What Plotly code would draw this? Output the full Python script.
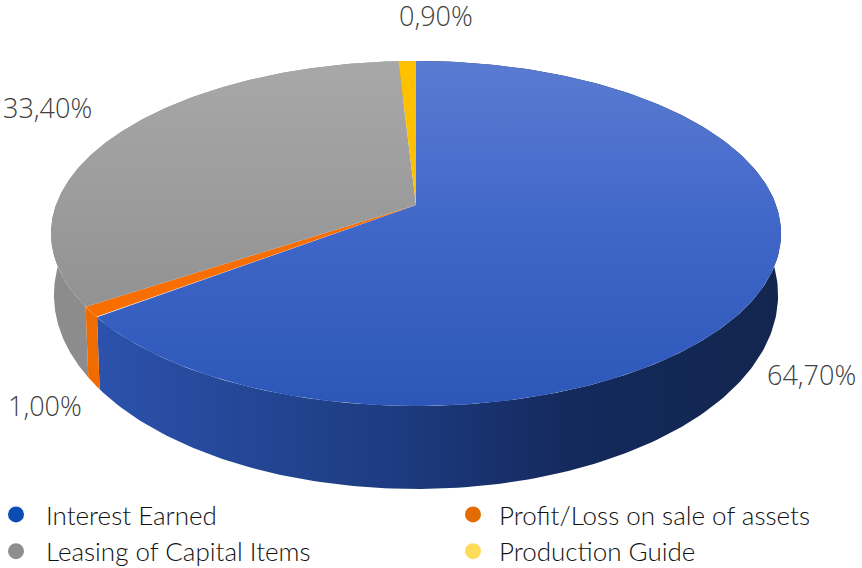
import numpy as np
import plotly.graph_objects as go

# Pie data, clockwise from twelve o'clock
categories = ["Interest Earned", "Profit/Loss on sale of assets", "Leasing of Capital Items", "Production Guide"]
values = [64.7, 1.0, 33.4, 0.9]
legend_colors = ["#0b4db3", "#e36c00", "#8e8e8e", "#ffdb5a"]
legend_groups = ["legend", "legend2", "legend", "legend2"]

# Gradients for the top faces (vertical) and the rim (horizontal).
# The y axis runs downward, so position 0 of a vertical scale is the lower edge.
top_scales = [
    [[0, "#2c57b8"], [0.5, "#3f66c8"], [1, "#5a7bd2"]],
    [[0, "#f96e00"], [1, "#f96e00"]],
    [[0, "#929292"], [1, "#a8a8a8"]],
    [[0, "#ffc000"], [1, "#ffc000"]],
]
side_scales = [
    [[0, "#2c52ac"], [0.45, "#1c3a7e"], [0.7, "#14295c"], [1, "#13264f"]],
    [[0, "#f06c00"], [1, "#f06c00"]],
    [[0, "#8c8c8c"], [1, "#909090"]],
    [[0, "#c79500"], [1, "#c79500"]],
]

# Label placement around the pie
label_xy = [(811, 374), (45, 405), (47, 107), (436, 15)]

# Perspective projection of the pie disc
APEX_X, APEX_Y = 416, 205
RADIUS, FORESHORTEN, TILT = 360, 167.8, 0.165
RIM_DROP, RIM_SCALE_X, RIM_SCALE_Y = 57.9, 0.992, 1.125


def rim_top(theta):
    u, v = np.sin(theta), np.cos(theta)
    d = 1 + TILT * v
    return RADIUS * u / d, FORESHORTEN * v / d


def top_edge(theta):
    x, y = rim_top(theta)
    return APEX_X + x, APEX_Y - y


def bottom_edge(theta):
    x, y = rim_top(theta)
    return APEX_X + RIM_SCALE_X * x, APEX_Y + RIM_DROP - RIM_SCALE_Y * y


ends = np.cumsum(values) / np.sum(values) * 2 * np.pi
starts = np.concatenate(([0.0], ends[:-1]))

fig = go.Figure()

# Rim walls first, so the top faces sit over them
for i in [3, 2, 0, 1]:
    t = np.linspace(starts[i], ends[i], 240)
    xt, yt = top_edge(t)
    xb, yb = bottom_edge(t)
    fig.add_trace(go.Scatter(
        x=np.concatenate((xt, xb[::-1], xt[:1])),
        y=np.concatenate((yt, yb[::-1], yt[:1])),
        mode="lines", line=dict(width=0), fill="toself",
        fillgradient=dict(type="horizontal", colorscale=side_scales[i]),
        hoverinfo="skip", showlegend=False,
    ))

# Top faces
for i in range(len(values)):
    t = np.linspace(starts[i], ends[i], 240)
    xt, yt = top_edge(t)
    fig.add_trace(go.Scatter(
        x=np.concatenate(([APEX_X], xt, [APEX_X])),
        y=np.concatenate(([APEX_Y], yt, [APEX_Y])),
        mode="lines", line=dict(width=0), fill="toself",
        fillgradient=dict(type="vertical", colorscale=top_scales[i]),
        name=categories[i], showlegend=False,
    ))

# Legend keys, split across two columns
for name, color, group in zip(categories, legend_colors, legend_groups):
    fig.add_trace(go.Scatter(
        x=[None], y=[None], mode="markers", name=name, legend=group,
        marker=dict(size=16, color=color),
    ))

for v, (lx, ly) in zip(values, label_xy):
    fig.add_annotation(
        x=lx, y=ly, text=f"{v:.2f}".replace(".", ",") + "%", showarrow=False,
        font=dict(family="Open Sans", size=27, color="#404040", weight=300),
    )

legend_font = dict(family="Lato", size=26, color="#111111", weight=300)
fig.update_layout(
    width=862, height=568, margin=dict(l=0, r=0, t=0, b=0, autoexpand=False),
    paper_bgcolor="white", plot_bgcolor="white",
    xaxis=dict(range=[0, 862], visible=False, fixedrange=True),
    yaxis=dict(range=[568, 0], visible=False, fixedrange=True),
    legend=dict(
        x=-14 / 862, y=1 - 491 / 568, xanchor="left", yanchor="top",
        itemwidth=50, font=legend_font, bgcolor="rgba(0,0,0,0)",
    ),
    legend2=dict(
        x=447 / 862, y=1 - 491 / 568, xanchor="left", yanchor="top",
        itemwidth=42, font=legend_font, bgcolor="rgba(0,0,0,0)",
    ),
)

fig.write_html("out.html")
